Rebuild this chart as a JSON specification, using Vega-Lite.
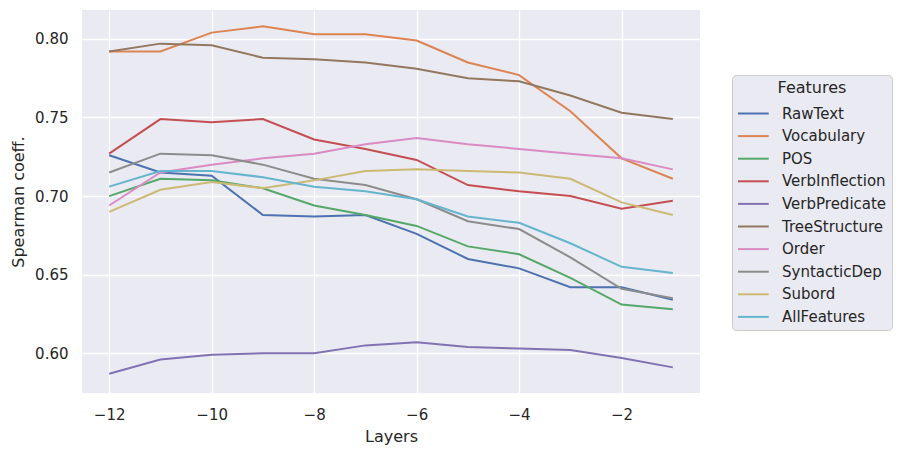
{
  "$schema": "https://vega.github.io/schema/vega-lite/v6.json",
  "width": 618,
  "height": 383,
  "autosize": {"type": "none"},
  "padding": {"left": 82, "top": 10, "right": 205, "bottom": 63},
  "background": "white",
  "data": {
    "values": [
      {"layer": -12, "feature": "RawText", "coeff": 0.726},
      {"layer": -11, "feature": "RawText", "coeff": 0.715},
      {"layer": -10, "feature": "RawText", "coeff": 0.713},
      {"layer": -9, "feature": "RawText", "coeff": 0.688},
      {"layer": -8, "feature": "RawText", "coeff": 0.687},
      {"layer": -7, "feature": "RawText", "coeff": 0.688},
      {"layer": -6, "feature": "RawText", "coeff": 0.676},
      {"layer": -5, "feature": "RawText", "coeff": 0.660},
      {"layer": -4, "feature": "RawText", "coeff": 0.654},
      {"layer": -3, "feature": "RawText", "coeff": 0.642},
      {"layer": -2, "feature": "RawText", "coeff": 0.642},
      {"layer": -1, "feature": "RawText", "coeff": 0.634},

      {"layer": -12, "feature": "Vocabulary", "coeff": 0.792},
      {"layer": -11, "feature": "Vocabulary", "coeff": 0.792},
      {"layer": -10, "feature": "Vocabulary", "coeff": 0.804},
      {"layer": -9, "feature": "Vocabulary", "coeff": 0.808},
      {"layer": -8, "feature": "Vocabulary", "coeff": 0.803},
      {"layer": -7, "feature": "Vocabulary", "coeff": 0.803},
      {"layer": -6, "feature": "Vocabulary", "coeff": 0.799},
      {"layer": -5, "feature": "Vocabulary", "coeff": 0.785},
      {"layer": -4, "feature": "Vocabulary", "coeff": 0.777},
      {"layer": -3, "feature": "Vocabulary", "coeff": 0.754},
      {"layer": -2, "feature": "Vocabulary", "coeff": 0.724},
      {"layer": -1, "feature": "Vocabulary", "coeff": 0.711},

      {"layer": -12, "feature": "POS", "coeff": 0.700},
      {"layer": -11, "feature": "POS", "coeff": 0.711},
      {"layer": -10, "feature": "POS", "coeff": 0.710},
      {"layer": -9, "feature": "POS", "coeff": 0.705},
      {"layer": -8, "feature": "POS", "coeff": 0.694},
      {"layer": -7, "feature": "POS", "coeff": 0.688},
      {"layer": -6, "feature": "POS", "coeff": 0.681},
      {"layer": -5, "feature": "POS", "coeff": 0.668},
      {"layer": -4, "feature": "POS", "coeff": 0.663},
      {"layer": -3, "feature": "POS", "coeff": 0.648},
      {"layer": -2, "feature": "POS", "coeff": 0.631},
      {"layer": -1, "feature": "POS", "coeff": 0.628},

      {"layer": -12, "feature": "VerbInflection", "coeff": 0.727},
      {"layer": -11, "feature": "VerbInflection", "coeff": 0.749},
      {"layer": -10, "feature": "VerbInflection", "coeff": 0.747},
      {"layer": -9, "feature": "VerbInflection", "coeff": 0.749},
      {"layer": -8, "feature": "VerbInflection", "coeff": 0.736},
      {"layer": -7, "feature": "VerbInflection", "coeff": 0.730},
      {"layer": -6, "feature": "VerbInflection", "coeff": 0.723},
      {"layer": -5, "feature": "VerbInflection", "coeff": 0.707},
      {"layer": -4, "feature": "VerbInflection", "coeff": 0.703},
      {"layer": -3, "feature": "VerbInflection", "coeff": 0.700},
      {"layer": -2, "feature": "VerbInflection", "coeff": 0.692},
      {"layer": -1, "feature": "VerbInflection", "coeff": 0.697},

      {"layer": -12, "feature": "VerbPredicate", "coeff": 0.587},
      {"layer": -11, "feature": "VerbPredicate", "coeff": 0.596},
      {"layer": -10, "feature": "VerbPredicate", "coeff": 0.599},
      {"layer": -9, "feature": "VerbPredicate", "coeff": 0.600},
      {"layer": -8, "feature": "VerbPredicate", "coeff": 0.600},
      {"layer": -7, "feature": "VerbPredicate", "coeff": 0.605},
      {"layer": -6, "feature": "VerbPredicate", "coeff": 0.607},
      {"layer": -5, "feature": "VerbPredicate", "coeff": 0.604},
      {"layer": -4, "feature": "VerbPredicate", "coeff": 0.603},
      {"layer": -3, "feature": "VerbPredicate", "coeff": 0.602},
      {"layer": -2, "feature": "VerbPredicate", "coeff": 0.597},
      {"layer": -1, "feature": "VerbPredicate", "coeff": 0.591},

      {"layer": -12, "feature": "TreeStructure", "coeff": 0.792},
      {"layer": -11, "feature": "TreeStructure", "coeff": 0.797},
      {"layer": -10, "feature": "TreeStructure", "coeff": 0.796},
      {"layer": -9, "feature": "TreeStructure", "coeff": 0.788},
      {"layer": -8, "feature": "TreeStructure", "coeff": 0.787},
      {"layer": -7, "feature": "TreeStructure", "coeff": 0.785},
      {"layer": -6, "feature": "TreeStructure", "coeff": 0.781},
      {"layer": -5, "feature": "TreeStructure", "coeff": 0.775},
      {"layer": -4, "feature": "TreeStructure", "coeff": 0.773},
      {"layer": -3, "feature": "TreeStructure", "coeff": 0.764},
      {"layer": -2, "feature": "TreeStructure", "coeff": 0.753},
      {"layer": -1, "feature": "TreeStructure", "coeff": 0.749},

      {"layer": -12, "feature": "Order", "coeff": 0.694},
      {"layer": -11, "feature": "Order", "coeff": 0.715},
      {"layer": -10, "feature": "Order", "coeff": 0.720},
      {"layer": -9, "feature": "Order", "coeff": 0.724},
      {"layer": -8, "feature": "Order", "coeff": 0.727},
      {"layer": -7, "feature": "Order", "coeff": 0.733},
      {"layer": -6, "feature": "Order", "coeff": 0.737},
      {"layer": -5, "feature": "Order", "coeff": 0.733},
      {"layer": -4, "feature": "Order", "coeff": 0.730},
      {"layer": -3, "feature": "Order", "coeff": 0.727},
      {"layer": -2, "feature": "Order", "coeff": 0.724},
      {"layer": -1, "feature": "Order", "coeff": 0.717},

      {"layer": -12, "feature": "SyntacticDep", "coeff": 0.715},
      {"layer": -11, "feature": "SyntacticDep", "coeff": 0.727},
      {"layer": -10, "feature": "SyntacticDep", "coeff": 0.726},
      {"layer": -9, "feature": "SyntacticDep", "coeff": 0.720},
      {"layer": -8, "feature": "SyntacticDep", "coeff": 0.711},
      {"layer": -7, "feature": "SyntacticDep", "coeff": 0.707},
      {"layer": -6, "feature": "SyntacticDep", "coeff": 0.698},
      {"layer": -5, "feature": "SyntacticDep", "coeff": 0.684},
      {"layer": -4, "feature": "SyntacticDep", "coeff": 0.679},
      {"layer": -3, "feature": "SyntacticDep", "coeff": 0.661},
      {"layer": -2, "feature": "SyntacticDep", "coeff": 0.641},
      {"layer": -1, "feature": "SyntacticDep", "coeff": 0.635},

      {"layer": -12, "feature": "Subord", "coeff": 0.690},
      {"layer": -11, "feature": "Subord", "coeff": 0.704},
      {"layer": -10, "feature": "Subord", "coeff": 0.709},
      {"layer": -9, "feature": "Subord", "coeff": 0.705},
      {"layer": -8, "feature": "Subord", "coeff": 0.710},
      {"layer": -7, "feature": "Subord", "coeff": 0.716},
      {"layer": -6, "feature": "Subord", "coeff": 0.717},
      {"layer": -5, "feature": "Subord", "coeff": 0.716},
      {"layer": -4, "feature": "Subord", "coeff": 0.715},
      {"layer": -3, "feature": "Subord", "coeff": 0.711},
      {"layer": -2, "feature": "Subord", "coeff": 0.696},
      {"layer": -1, "feature": "Subord", "coeff": 0.688},

      {"layer": -12, "feature": "AllFeatures", "coeff": 0.706},
      {"layer": -11, "feature": "AllFeatures", "coeff": 0.716},
      {"layer": -10, "feature": "AllFeatures", "coeff": 0.716},
      {"layer": -9, "feature": "AllFeatures", "coeff": 0.712},
      {"layer": -8, "feature": "AllFeatures", "coeff": 0.706},
      {"layer": -7, "feature": "AllFeatures", "coeff": 0.703},
      {"layer": -6, "feature": "AllFeatures", "coeff": 0.698},
      {"layer": -5, "feature": "AllFeatures", "coeff": 0.687},
      {"layer": -4, "feature": "AllFeatures", "coeff": 0.683},
      {"layer": -3, "feature": "AllFeatures", "coeff": 0.670},
      {"layer": -2, "feature": "AllFeatures", "coeff": 0.655},
      {"layer": -1, "feature": "AllFeatures", "coeff": 0.651}
    ]
  },
  "mark": {"type": "line", "strokeWidth": 2, "clip": true},
  "encoding": {
    "x": {
      "field": "layer",
      "type": "quantitative",
      "title": "Layers",
      "scale": {"domain": [-12.53, -0.47], "nice": false, "zero": false},
      "axis": {
        "values": [-12, -10, -8, -6, -4, -2],
        "format": "d",
        "labelPadding": 14,
        "titlePadding": 6
      }
    },
    "y": {
      "field": "coeff",
      "type": "quantitative",
      "title": "Spearman coeff.",
      "scale": {"domain": [0.5747, 0.8184], "nice": false, "zero": false},
      "axis": {
        "values": [0.6, 0.65, 0.7, 0.75, 0.8],
        "format": ".2f",
        "labelPadding": 14,
        "titlePadding": 8
      }
    },
    "color": {
      "field": "feature",
      "type": "nominal",
      "sort": ["RawText", "Vocabulary", "POS", "VerbInflection", "VerbPredicate", "TreeStructure", "Order", "SyntacticDep", "Subord", "AllFeatures"],
      "scale": {
        "domain": ["RawText", "Vocabulary", "POS", "VerbInflection", "VerbPredicate", "TreeStructure", "Order", "SyntacticDep", "Subord", "AllFeatures"],
        "range": ["#4C72B0", "#DD8452", "#55A868", "#C44E52", "#8172B3", "#937860", "#DA8BC3", "#8C8C8C", "#CCB974", "#64B5CD"]
      },
      "legend": {
        "title": "Features",
        "orient": "none",
        "legendX": 650,
        "legendY": 65,
        "titleAnchor": "middle",
        "titleFont": "DejaVu Sans",
        "titleFontSize": 16,
        "titleFontWeight": "normal",
        "titleColor": "#262626",
        "titlePadding": 9,
        "labelFont": "DejaVu Sans",
        "labelFontSize": 15,
        "labelColor": "#262626",
        "labelOffset": 28,
        "symbolType": "M-1,0H3.1",
        "symbolSize": 225,
        "symbolStrokeWidth": 2,
        "symbolFillColor": "transparent",
        "rowPadding": 5.6,
        "padding": 5,
        "fillColor": "#EAEAF2",
        "strokeColor": "#cccccc",
        "cornerRadius": 4
      }
    }
  },
  "config": {
    "view": {"fill": "#EAEAF2", "stroke": null},
    "axis": {
      "grid": true,
      "gridColor": "white",
      "gridWidth": 1.3,
      "domain": false,
      "ticks": false,
      "labelFont": "DejaVu Sans",
      "labelFontSize": 15,
      "labelColor": "#262626",
      "titleFont": "DejaVu Sans",
      "titleFontSize": 16,
      "titleFontWeight": "normal",
      "titleColor": "#262626"
    }
  }
}
